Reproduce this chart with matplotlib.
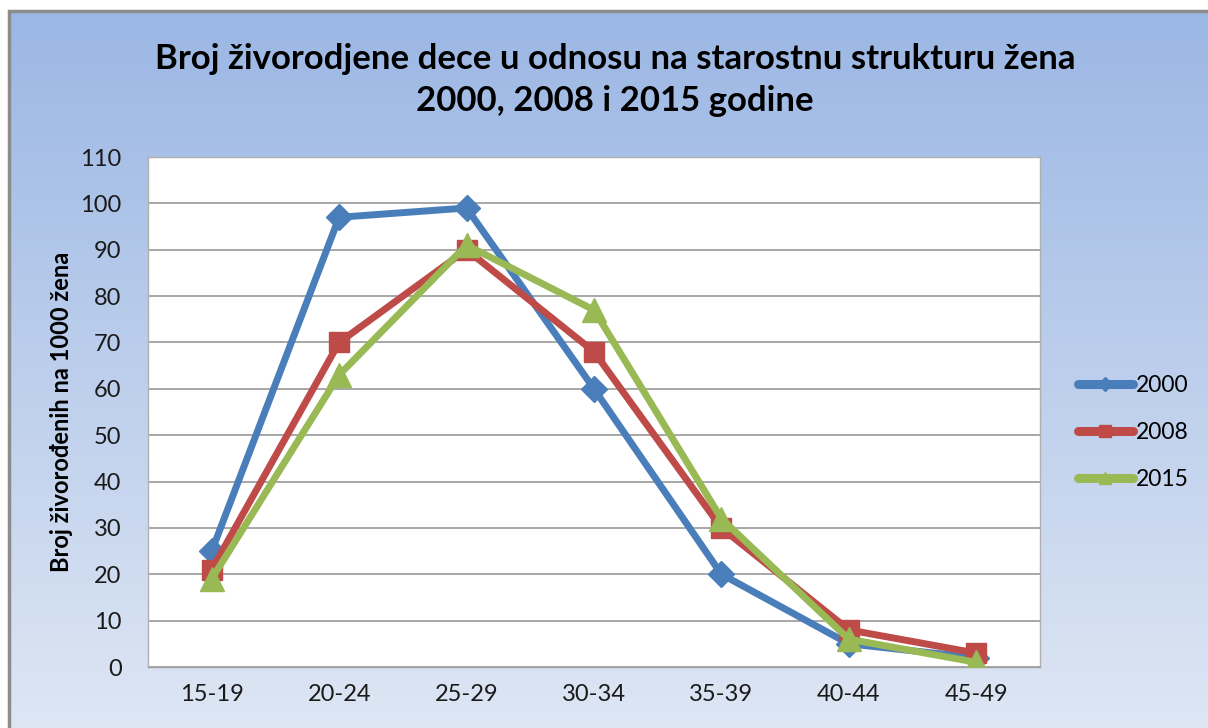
import numpy as np
import matplotlib.pyplot as plt
from matplotlib.patches import Rectangle

# Podaci
kategorije = ['15-19', '20-24', '25-29', '30-34', '35-39', '40-44', '45-49']
god_2000 = [25, 97, 99, 60, 20, 5, 2]
god_2008 = [21, 70, 90, 68, 30, 8, 3]
god_2015 = [19, 63, 91, 77, 32, 6, 1]

plt.rcParams['font.family'] = ['Lato', 'DejaVu Sans']

fig = plt.figure(figsize=(12.08, 7.28), dpi=100)
fig.patch.set_facecolor('white')

# Pozadina sa gradijentom
bg = fig.add_axes([9 / 1208, -0.02, 1, 1.02 - 11 / 728], zorder=0)
grad = np.linspace(0, 1, 256).reshape(-1, 1)
top = np.array([155, 183, 228]) / 255
bottom = np.array([223, 231, 244]) / 255
img = top + (bottom - top) * grad[:, :, None]
bg.imshow(img, aspect='auto', extent=[0, 1, 0, 1])
bg.add_patch(Rectangle((0, 0), 1, 1, fill=False, edgecolor='#8c8c8c', lw=2.5,
                       transform=bg.transAxes, clip_on=False))
bg.set_axis_off()

ax = fig.add_axes([148 / 1208, 1 - 667 / 728, (1040 - 148) / 1208, (667 - 157) / 728], zorder=1)
ax.set_facecolor('white')
x = np.arange(len(kategorije))

ax.plot(x, god_2000, color='#4a7ebb', lw=5, marker='D', ms=13, label='2000', zorder=3)
ax.plot(x, god_2008, color='#be4b48', lw=5, marker='s', ms=15, label='2008', zorder=4)
ax.plot(x, god_2015, color='#98b954', lw=5, marker='^', ms=17, label='2015', zorder=5)

ax.set_xlim(-0.5, 6.5)
ax.set_ylim(0, 110)
ax.set_yticks(range(0, 111, 10))
ax.set_xticks(x)
ax.set_xticklabels(kategorije)
ax.tick_params(length=0, labelsize=17, colors='#1a1a1a', pad=12)
ax.tick_params(axis='y', pad=19)
ax.grid(axis='y', color='#a0a0a0', lw=1.3)
ax.set_axisbelow(True)
for s in ax.spines.values():
    s.set_color('#b0b0b0')
    s.set_linewidth(1)
ax.spines['bottom'].set_color('#a0a0a0')

ax.set_ylabel('Broj živorođenih na 1000 žena', fontsize=17, fontweight='bold', labelpad=5)

fig.text(615 / 1208, 1 - 80 / 728,
         'Broj živorodjene dece u odnosu na starostnu strukturu žena\n2000, 2008 i 2015 godine',
         ha='center', va='center', fontsize=25, fontweight='bold', linespacing=1.35)

leg = ax.legend(loc='center left', bbox_to_anchor=(1.032, 0.46),
                frameon=False, fontsize=16.5, handlelength=2.4, handletextpad=0.15,
                labelspacing=1.15, markerscale=0.55, borderaxespad=0)
for line in leg.get_lines():
    line.set_linewidth(6.5)
    line.set_solid_capstyle('round')

fig.savefig('out.png', dpi=100)
